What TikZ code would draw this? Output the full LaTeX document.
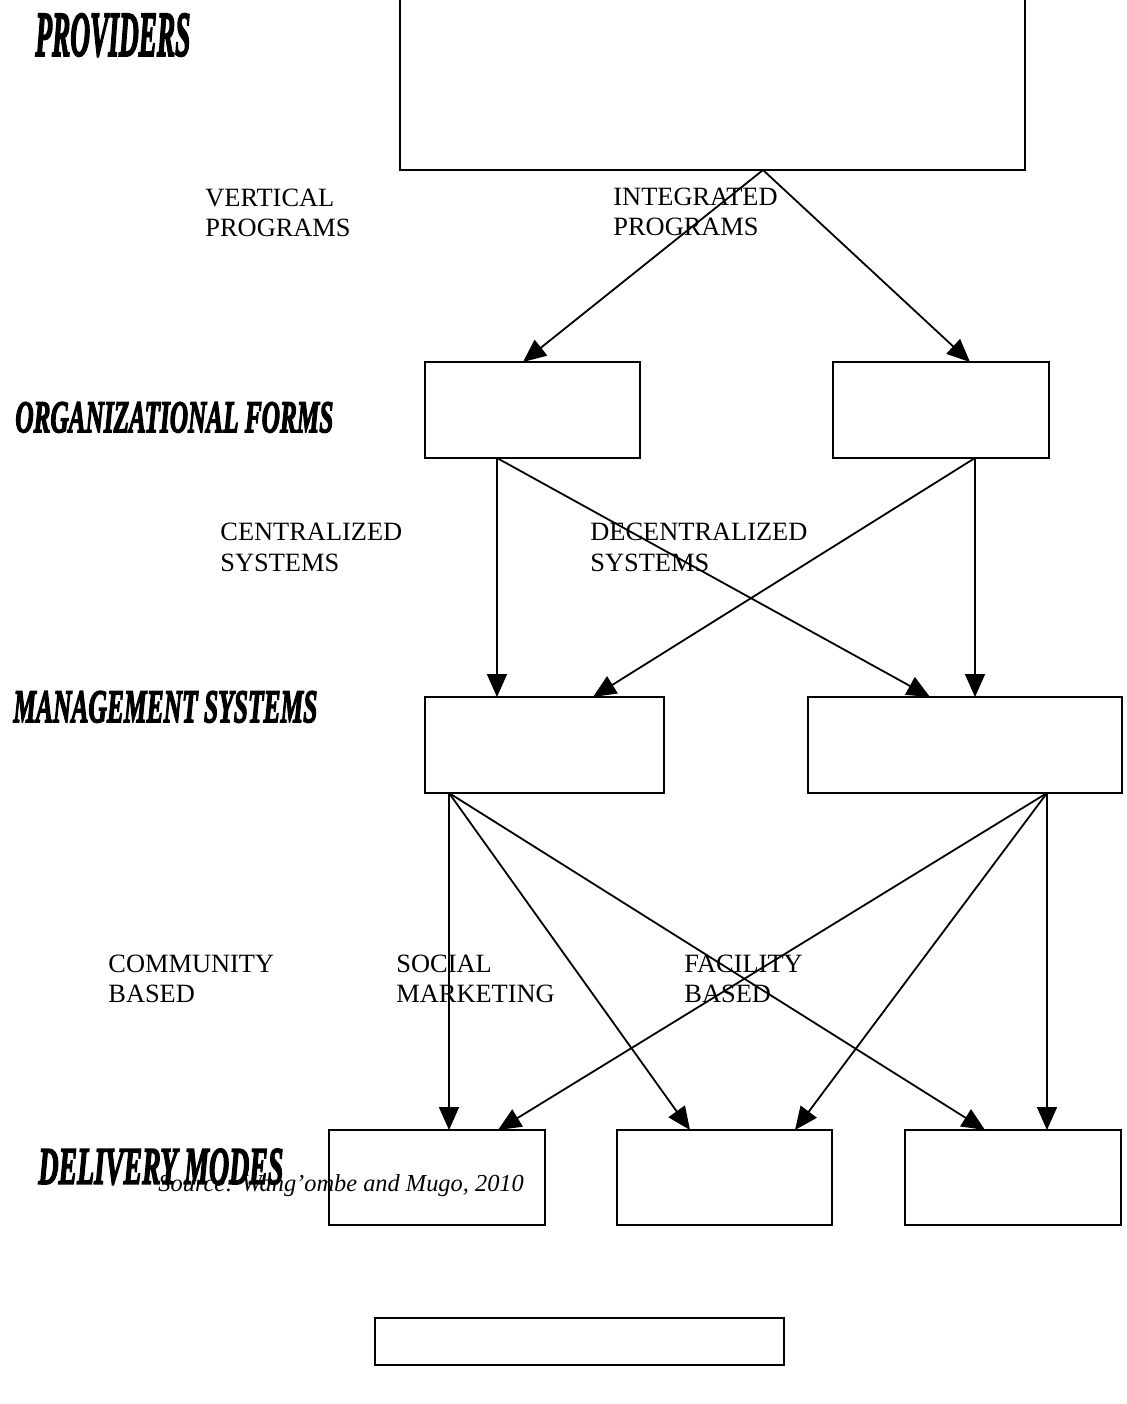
\documentclass[tikz,border=0pt]{standalone}
\usepackage{fontspec}
\usepackage{graphicx}
\setmainfont{Liberation Serif}
\newfontfamily\headfont[FakeBold=3.5]{Liberation Serif}
\usetikzlibrary{arrows.meta}
\begin{document}
\begin{tikzpicture}[x=0.5pt,y=-0.5pt,
  box/.style={draw,line width=1pt,inner sep=0pt,rectangle},
  arr/.style={line width=0.9pt,-{Triangle[length=11.5pt,width=10pt]}},
  lbl/.style={anchor=base west,inner sep=0pt,font=\fontsize{13.2}{15}\selectfont},
  head/.style={anchor=south west,inner sep=0pt}]
\useasboundingbox (0,0) rectangle (1127,1404);
% headings
\node[head] (hP) at (35,57) {\resizebox{77.5pt}{21pt}{\headfont\bfseries\itshape PROVIDERS}};
\node[head] (hO) at (15,433) {\resizebox{159pt}{15pt}{\headfont\bfseries\itshape ORGANIZATIONAL FORMS}};
\node[head] (hM) at (13,723) {\resizebox{152pt}{15.5pt}{\headfont\bfseries\itshape MANAGEMENT SYSTEMS}};
\node[head] (hD) at (38,1185) {\resizebox{122.5pt}{17.5pt}{\headfont\bfseries\itshape DELIVERY MODES}};
% boxes
\node[box,minimum width=312.5pt,minimum height=90pt] (top) at (712.5,80) {};
\node[box,minimum width=107.5pt,minimum height=48pt] (orgL) at (532.5,410) {};
\node[box,minimum width=108pt,minimum height=48pt] (orgR) at (941,410) {};
\node[box,minimum width=119.5pt,minimum height=48pt] (mgL) at (544.5,745) {};
\node[box,minimum width=157pt,minimum height=48pt] (mgR) at (965,745) {};
\node[box,minimum width=108pt,minimum height=47.5pt] (d1) at (437,1177.5) {};
\node[box,minimum width=107.5pt,minimum height=47.5pt] (d2) at (724.5,1177.5) {};
\node[box,minimum width=108pt,minimum height=47.5pt] (d3) at (1013,1177.5) {};
\node[box,minimum width=204.5pt,minimum height=23.5pt] (bot) at (579.5,1341.5) {};
% attachment points
\coordinate (pT) at (763,170);
\coordinate (aOL) at (523,362);
\coordinate (aOR) at (970,362);
\coordinate (pOL) at (497,458);
\coordinate (pOR) at (975,458);
\coordinate (aML1) at (497,697);
\coordinate (aML2) at (593,697);
\coordinate (aMR1) at (930,697);
\coordinate (aMR2) at (975,697);
\coordinate (pML) at (449,793);
\coordinate (pMR) at (1047,793);
\coordinate (aD1a) at (449,1130);
\coordinate (aD1b) at (498,1130);
\coordinate (aD2a) at (690,1130);
\coordinate (aD2b) at (795,1130);
\coordinate (aD3a) at (985,1130);
\coordinate (aD3b) at (1047,1130);
% connectors
\draw[arr] (pT) -- (aOL);
\draw[arr] (pT) -- (aOR);
\draw[arr] (pOL) -- (aML1);
\draw[arr] (pOL) -- (aMR1);
\draw[arr] (pOR) -- (aML2);
\draw[arr] (pOR) -- (aMR2);
\draw[arr] (pML) -- (aD1a);
\draw[arr] (pML) -- (aD2a);
\draw[arr] (pML) -- (aD3a);
\draw[arr] (pMR) -- (aD1b);
\draw[arr] (pMR) -- (aD2b);
\draw[arr] (pMR) -- (aD3b);
% labels
\node[lbl] (v1) at (205,206) {VERTICAL};
\node[lbl] (v2) at (205,236) {PROGRAMS};
\node[lbl] (i1) at (613,205) {INTEGRATED};
\node[lbl] (i2) at (613,235) {PROGRAMS};
\node[lbl] (c1) at (220,540) {CENTRALIZED};
\node[lbl] (c2) at (220,571) {SYSTEMS};
\node[lbl] (dc1) at (590,540) {DECENTRALIZED};
\node[lbl] (dc2) at (590,571) {SYSTEMS};
\node[lbl] (cm1) at (108,972) {COMMUNITY};
\node[lbl] (cm2) at (108,1002) {BASED};
\node[lbl] (s1) at (396,972) {SOCIAL};
\node[lbl] (s2) at (396,1002) {MARKETING};
\node[lbl] (f1) at (684,972) {FACILITY};
\node[lbl] (f2) at (684,1002) {BASED};
\node[lbl,font=\fontsize{12.2}{15}\selectfont\itshape] (src) at (158,1191) {Source: Wang’ombe and Mugo, 2010};
\end{tikzpicture}
\end{document}
